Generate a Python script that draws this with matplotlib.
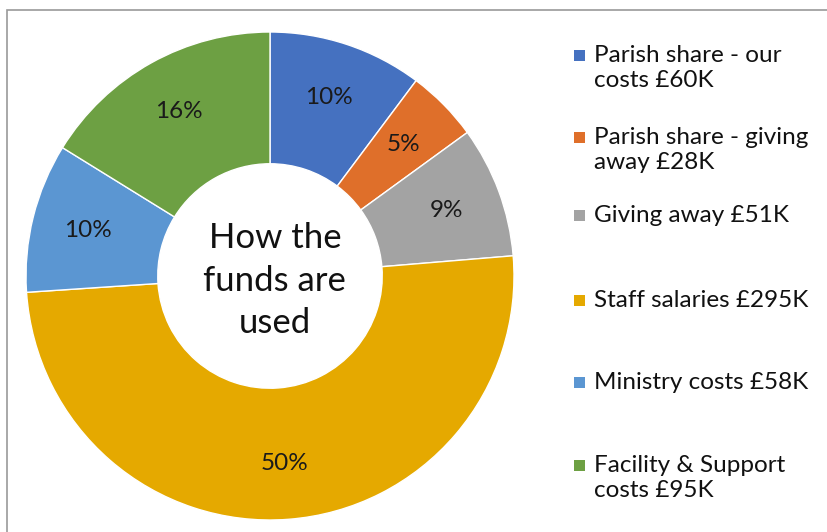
"""Donut chart: how the funds are used."""
import matplotlib.pyplot as plt
from matplotlib.patches import Rectangle

plt.rcParams['font.family'] = ['Lato', 'DejaVu Sans']

# Data
categories = [
    "Parish share - our\ncosts £60K",
    "Parish share - giving\naway £28K",
    "Giving away £51K",
    "Staff salaries £295K",
    "Ministry costs £58K",
    "Facility & Support\ncosts £95K",
]
amounts = [60, 28, 51, 295, 58, 95]
colors = ["#4571C0", "#DF6F2A", "#A3A3A3", "#E5A900", "#5B96D2", "#6DA043"]
center_title = "How the\nfunds are\nused"

W, H = 828, 532


def main():
    fig = plt.figure(figsize=(W / 100, H / 100), dpi=100)

    # Outer frame (only left and top edges visible)
    fig.patches.append(Rectangle((7 / W, -0.1), 1.2, (H - 10) / H + 0.1,
                                 transform=fig.transFigure, fill=False,
                                 edgecolor="#9a9a9a", linewidth=1.2))

    # Donut
    ax = fig.add_axes([26 / W, (H - 520) / H, 488 / W, 488 / H])
    wedges, _, autotexts = ax.pie(
        amounts, colors=colors, startangle=90, counterclock=False,
        radius=1.0, autopct=lambda p: f"{p:.0f}%", pctdistance=0.77,
        wedgeprops=dict(width=0.54, edgecolor="white", linewidth=1.0),
        textprops=dict(fontsize=17.5, color="#1a1a1a"))
    ax.set_xlim(-1, 1)
    ax.set_ylim(-1, 1)
    ax.set_aspect("equal")
    ax.axis("off")
    ax.text(0.02, -0.02, center_title, ha="center", va="center",
            fontsize=25, linespacing=1.4, color="#111111")

    # Legend, laid out by hand like the original
    row_y = [55, 137, 215, 300, 382, 465]
    for label, color, y in zip(categories, colors, row_y):
        fig.patches.append(Rectangle((574 / W, 1 - (y + 6) / H), 11 / W, 11 / H,
                                     transform=fig.transFigure,
                                     facecolor=color, edgecolor="none"))
        fig.text(594 / W, 1 - (y - 10) / H, label, ha="left", va="top",
                 fontsize=17.5, linespacing=1.22, color="#111111")

    fig.savefig("out.png", dpi=100)


if __name__ == "__main__":
    main()
